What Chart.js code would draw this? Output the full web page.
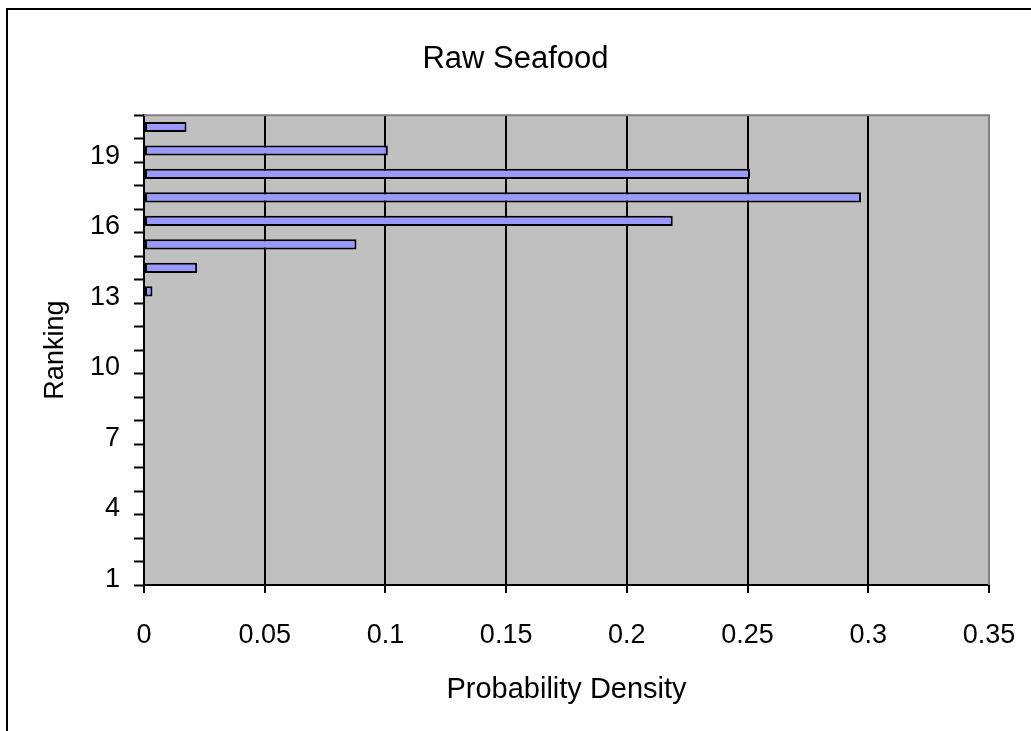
<!DOCTYPE html>
<html>
<head>
<meta charset="utf-8">
<title>Raw Seafood</title>
<script src="https://cdn.jsdelivr.net/npm/chart.js@4/dist/chart.umd.min.js"></script>
<style>
  html, body { margin: 0; padding: 0; background: #ffffff; }
  #wrap { width: 1031px; height: 731px; }
</style>
</head>
<body>
<div id="wrap"><canvas id="chart" width="1031" height="731"></canvas></div>
<script>
// Ranking categories (bottom to top) and their probability densities
const rankings = ['1', '2', '3', '4', '5', '6', '7', '8', '9', '10',
                  '11', '12', '13', '14', '15', '16', '17', '18', '19', '20'];
const density = [0, 0, 0, 0, 0, 0, 0, 0, 0, 0,
                 0, 0, 0.0035, 0.022, 0.088, 0.219, 0.297, 0.251, 0.101, 0.0176];
// Rankings that carry a printed label on the vertical axis
const rankLabels = ['1', '4', '7', '10', '13', '16', '19'];
// Density axis ticks
const densityTicks = [0, 0.05, 0.1, 0.15, 0.2, 0.25, 0.3, 0.35];

const FONT = '"Liberation Sans", Arial, sans-serif';

// Grey plot background, grey top/right edge, and the outer frame of the chart
const frame = {
  id: 'frame',
  beforeDraw(chart) {
    const { ctx, chartArea: a } = chart;
    ctx.save();
    ctx.fillStyle = '#ffffff';
    ctx.fillRect(0, 0, chart.width, chart.height);
    ctx.fillStyle = '#c0c0c0';
    ctx.fillRect(a.left, a.top, a.right - a.left, a.bottom - a.top);
    ctx.strokeStyle = '#000000';
    ctx.lineWidth = 2;
    ctx.strokeRect(7, 9, 2000, 2000);
    ctx.restore();
  },
  afterDatasetsDraw(chart) {
    const { ctx, chartArea: a } = chart;
    ctx.save();
    ctx.strokeStyle = '#808080';
    ctx.lineWidth = 2;
    ctx.beginPath();
    ctx.moveTo(a.left, a.top);
    ctx.lineTo(a.right, a.top);
    ctx.lineTo(a.right, a.bottom);
    ctx.stroke();
    ctx.restore();
  }
};

new Chart(document.getElementById('chart'), {
  type: 'bar',
  data: {
    labels: rankings,
    datasets: [{
      data: density,
      backgroundColor: '#9999ff',
      borderColor: '#000000',
      borderWidth: ctx => (ctx.raw > 0 ? 2 : 0),
      borderSkipped: false,
      barPercentage: 0.43,
      categoryPercentage: 1
    }]
  },
  options: {
    indexAxis: 'y',
    responsive: false,
    animation: false,
    layout: { padding: { left: 42, right: 42, top: 0, bottom: 21 } },
    plugins: {
      legend: { display: false },
      tooltip: { enabled: false },
      title: {
        display: true,
        text: 'Raw Seafood',
        color: '#000000',
        font: { family: FONT, size: 31, weight: 'normal', lineHeight: 1.2 },
        padding: { top: 41, bottom: 37 }
      }
    },
    scales: {
      x: {
        type: 'linear',
        position: 'bottom',
        min: 0,
        max: 0.35,
        afterBuildTicks: scale => {
          scale.ticks = densityTicks.map(v => ({ value: v }));
        },
        afterFit: scale => {
          scale.height = 125;
          scale.paddingLeft = 0;
          scale.paddingRight = 0;
        },
        ticks: {
          color: '#000000',
          padding: 26,
          maxRotation: 0,
          font: { family: FONT, size: 27 },
          callback: v => String(Number(v.toFixed(2)))
        },
        grid: {
          color: ctx => (ctx.tick && ctx.tick.value >= 0.35 ? '#808080' : '#000000'),
          lineWidth: 2,
          drawTicks: true,
          tickLength: 8,
          tickColor: '#000000',
          tickWidth: 2
        },
        border: { display: true, color: '#000000', width: 2 },
        title: {
          display: true,
          text: 'Probability Density',
          color: '#000000',
          font: { family: FONT, size: 29, lineHeight: 1.2 },
          padding: { top: 0, bottom: 3 }
        }
      },
      y: {
        type: 'category',
        reverse: true,
        offset: true,
        afterFit: scale => {
          scale.width = 102;
          scale.paddingTop = 0;
          scale.paddingBottom = 0;
        },
        ticks: {
          color: '#000000',
          padding: 14,
          autoSkip: false,
          labelOffset: 6,
          font: { family: FONT, size: 27 },
          callback: function (value, index) {
            const lab = rankings[index];
            return rankLabels.includes(lab) ? lab : '';
          }
        },
        grid: {
          offset: true,
          drawOnChartArea: false,
          drawTicks: true,
          tickLength: 10,
          tickColor: '#000000',
          tickWidth: 2
        },
        border: { display: true, color: '#000000', width: 2 },
        title: {
          display: true,
          text: 'Ranking',
          color: '#000000',
          font: { family: FONT, size: 27, lineHeight: 1 },
          padding: { top: 0, bottom: 0 }
        }
      }
    }
  },
  plugins: [frame]
});
</script>
</body>
</html>
